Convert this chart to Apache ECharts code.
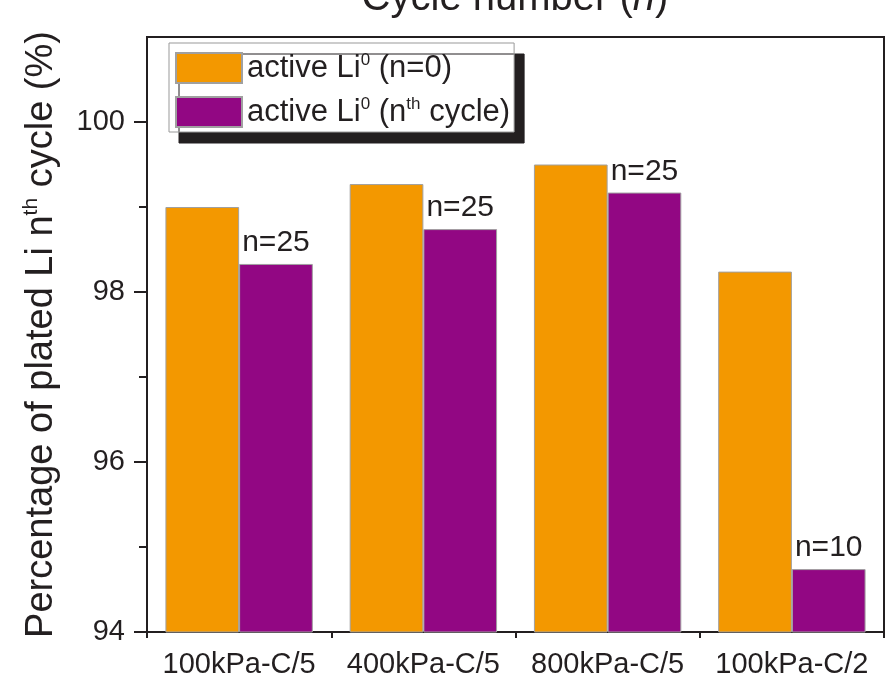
<!DOCTYPE html>
<html><head><meta charset="utf-8">
<script src="https://cdn.jsdelivr.net/npm/echarts@6/dist/echarts.min.js"></script>
<style>html,body{margin:0;padding:0;background:#fff}#c{width:888px;height:682px}</style>
</head><body><div id="c"></div>
<script>
const categories = ['100kPa-C/5', '400kPa-C/5', '800kPa-C/5', '100kPa-C/2'];
const initialValues = [99.0, 99.27, 99.5, 98.24];
const nthCycleValues = [98.33, 98.74, 99.17, 94.74];
const cycleLabels = ['n=25', 'n=25', 'n=25', 'n=10'];
const yMajorTicks = [94, 96, 98, 100];
const yMinorTicks = [95, 97, 99];
const seriesNames = ['active Li0 (n=0)', 'active Li0 (nth cycle)'];

const FONT = "'Liberation Sans', Arial, Helvetica, sans-serif";
const INK = '#231f20';
const chart = echarts.init(document.getElementById('c'), null, {renderer: 'canvas'});
chart.setOption({
  animation: false,
  backgroundColor: '#fff',
  title: {
    text: '{a|Cycle number (}{i|n}{a|)}',
    left: 515, textAlign: 'center', top: -21, padding: 0,
    textStyle: {
      fontWeight: 'normal',
      rich: {
        a: {fontSize: 40, fontFamily: FONT, color: INK, fontWeight: 'normal'},
        i: {fontSize: 40, fontFamily: FONT, color: INK, fontStyle: 'italic', fontWeight: 'normal'}
      }
    }
  },
  grid: {left: 147, right: 4, top: 37, bottom: 50, show: true, borderColor: INK, borderWidth: 2, backgroundColor: 'transparent'},
  legend: {
    orient: 'vertical', left: 169, top: 43,
    padding: [9, 4, 4, 6],
    itemWidth: 66, itemHeight: 30, itemGap: 12,
    backgroundColor: '#fff', borderColor: '#999', borderWidth: 1,
    shadowColor: INK, shadowOffsetX: 10, shadowOffsetY: 11, shadowBlur: 0,
    icon: 'rect',
    data: seriesNames,
    formatter: function (name) {
      return name === seriesNames[0]
        ? '{a|active Li}{s|0}{a| (n=0)}'
        : '{a|active Li}{s|0}{a| (n}{s|th}{a| cycle)}';
    },
    textStyle: {
      rich: {
        a: {fontSize: 31, fontFamily: FONT, color: INK, lineHeight: 32},
        s: {fontSize: 17, fontFamily: FONT, color: INK, lineHeight: 20, verticalAlign: 'top'}
      }
    }
  },
  xAxis: [{
    type: 'category', data: categories, position: 'bottom',
    axisLine: {lineStyle: {color: INK, width: 2}},
    axisTick: {alignWithLabel: true, length: 12, lineStyle: {color: INK, width: 2}},
    axisLabel: {interval: 0, hideOverlap: false, fontSize: 29, fontFamily: FONT, color: INK, margin: 18},
    splitLine: {show: false}
  }, {
    type: 'category', data: categories, position: 'bottom',
    axisLine: {show: false},
    axisTick: {show: true, interval: 0, alignWithLabel: false, length: 6, lineStyle: {color: INK, width: 2}},
    axisLabel: {show: false},
    splitLine: {show: false}
  }],
  yAxis: [{
    type: 'value', min: 94, max: 101, position: 'left',
    axisLine: {show: true, lineStyle: {color: INK, width: 2}},
    axisTick: {show: true, customValues: yMajorTicks, length: 13, lineStyle: {color: INK, width: 2}},
    axisLabel: {customValues: yMajorTicks, fontSize: 29, fontFamily: FONT, color: INK, margin: 22},
    splitLine: {show: false},
    name: '{a|Percentage of plated Li n}{s|th}{a| cycle (%)}',
    nameLocation: 'middle', nameGap: 84, nameRotate: 90,
    nameTextStyle: {
      rich: {
        a: {fontSize: 38, fontFamily: FONT, color: INK, lineHeight: 42},
        s: {fontSize: 21, fontFamily: FONT, color: INK, lineHeight: 24, verticalAlign: 'top'}
      }
    }
  }, {
    type: 'value', min: 94, max: 101, position: 'left',
    axisLine: {show: false},
    axisTick: {show: true, customValues: yMinorTicks, length: 8, lineStyle: {color: INK, width: 2}},
    axisLabel: {show: false},
    splitLine: {show: false}
  }],
  series: [{
    name: seriesNames[0], type: 'bar', data: initialValues,
    barGap: '0%', barCategoryGap: '20%',
    itemStyle: {color: '#f39800', borderColor: '#a0a0a0', borderWidth: 1}
  }, {
    name: seriesNames[1], type: 'bar', data: nthCycleValues,
    barGap: '0%', barCategoryGap: '20%',
    itemStyle: {color: '#920783', borderColor: '#a0a0a0', borderWidth: 1},
    label: {
      show: true, position: 'top', distance: 6,
      formatter: function (p) { return cycleLabels[p.dataIndex]; },
      fontSize: 30, fontFamily: FONT, color: INK
    }
  }]
});
</script></body></html>
